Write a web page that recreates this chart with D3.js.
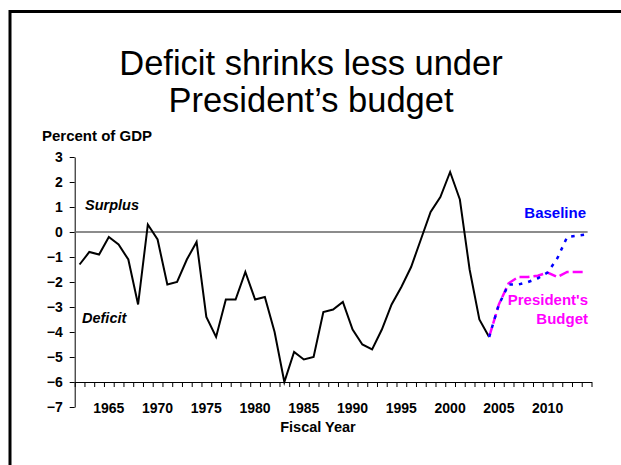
<!DOCTYPE html>
<html><head><meta charset="utf-8">
<script src="https://cdn.jsdelivr.net/npm/d3@7"></script>
<style>
html,body{margin:0;padding:0;background:#fff;}
svg{display:block;font-family:"Liberation Sans",Arial,sans-serif;}
</style></head>
<body>
<svg id="c" width="621" height="465"></svg>
<script>
// ---- data ----
const histYears = [1962,1963,1964,1965,1966,1967,1968,1969,1970,1971,1972,1973,1974,1975,1976,1977,1978,1979,1980,1981,1982,1983,1984,1985,1986,1987,1988,1989,1990,1991,1992,1993,1994,1995,1996,1997,1998,1999,2000,2001,2002,2003,2004];
const actual = [-1.3,-0.8,-0.9,-0.2,-0.5,-1.1,-2.9,0.3,-0.3,-2.1,-2.0,-1.1,-0.4,-3.4,-4.2,-2.7,-2.7,-1.6,-2.7,-2.6,-4.0,-6.0,-4.8,-5.1,-5.0,-3.2,-3.1,-2.8,-3.9,-4.5,-4.7,-3.9,-2.9,-2.2,-1.4,-0.3,0.8,1.4,2.4,1.3,-1.5,-3.5,-4.2];
const projYears = [2004,2005,2006,2007,2008,2009,2010,2011,2012,2013,2014];
const baseline = [-4.2,-2.9,-2.1,-2.1,-2.0,-1.85,-1.62,-1.05,-0.2,-0.15,-0.1];
const president = [-4.2,-2.9,-2.05,-1.8,-1.8,-1.75,-1.62,-1.8,-1.6,-1.6,-1.6];
const yTicks = [3,2,1,0,-1,-2,-3,-4,-5,-6,-7];
const xLabels = [1965,1970,1975,1980,1985,1990,1995,2000,2005,2010];
const firstYear = 1962, lastYear = 2014;

// ---- layout ----
const svg = d3.select("#c");
const x = d3.scaleLinear().domain([firstYear-0.5, lastYear+0.5]).range([74.7, 591.5]);
const y = d3.scaleLinear().domain([-7, 3]).range([407, 157]);

// frame
svg.append("rect").attr("x",10).attr("y",11.5).attr("width",640).attr("height",480)
  .attr("fill","none").attr("stroke","#000").attr("stroke-width",3);

// title
const title = svg.append("text").attr("text-anchor","middle").attr("font-size",34.5).attr("fill","#000");
title.append("tspan").attr("x",311).attr("y",75).text("Deficit shrinks less under");
title.append("tspan").attr("x",311).attr("y",112).text("President’s budget");

// y axis
const yAxis = svg.append("g").attr("transform",`translate(${x.range()[0]},0)`)
  .call(d3.axisLeft(y).tickValues(yTicks).tickSize(5).tickSizeOuter(0).tickPadding(7).tickFormat(d3.format("d")));
yAxis.select(".domain").attr("stroke","#000").attr("stroke-width",1);
yAxis.selectAll(".tick line").attr("stroke","#000");
yAxis.selectAll("text").attr("font-size",14).attr("font-weight","bold").attr("font-family","Liberation Sans, Arial, sans-serif").attr("fill","#000");

// x axis at -6
const bounds = d3.range(firstYear-0.5, lastYear+1, 1);
const xAxis = svg.append("g").attr("transform",`translate(0,${y(-6)})`)
  .call(d3.axisBottom(x).tickValues(bounds).tickSize(5).tickSizeOuter(0).tickFormat(""));
xAxis.select(".domain").attr("stroke","#000");
xAxis.selectAll(".tick line").attr("stroke","#000");

svg.append("g").selectAll("text").data(xLabels).join("text")
  .attr("x",d=>x(d)).attr("y",413).attr("text-anchor","middle")
  .attr("font-size",14).attr("font-weight","bold").attr("fill","#000").text(d=>d);

// zero line
svg.append("line").attr("x1",x.range()[0]).attr("x2",x(lastYear)+1).attr("y1",y(0)).attr("y2",y(0))
  .attr("stroke","#666").attr("stroke-width",1.5);

// labels
svg.append("text").attr("x",42).attr("y",141).attr("font-size",15).attr("font-weight","bold").text("Percent of GDP");
svg.append("text").attr("x",85).attr("y",210).attr("font-size",14.5).attr("font-weight","bold").attr("font-style","italic").text("Surplus");
svg.append("text").attr("x",82).attr("y",323).attr("font-size",14.5).attr("font-weight","bold").attr("font-style","italic").text("Deficit");
svg.append("text").attr("x",318).attr("y",432).attr("text-anchor","middle").attr("font-size",14.5).attr("font-weight","bold").text("Fiscal Year");

const line = d3.line().x(d=>x(d[0])).y(d=>y(d[1]));

svg.append("path").datum(histYears.map((d,i)=>[d,actual[i]]))
  .attr("d",line).attr("fill","none").attr("stroke","#000").attr("stroke-width",2).attr("stroke-linejoin","miter");
svg.append("path").datum(projYears.map((d,i)=>[d,president[i]]))
  .attr("d",line).attr("fill","none").attr("stroke","#FF00FF").attr("stroke-width",2.5).attr("stroke-dasharray","10,4");
svg.append("path").datum(projYears.map((d,i)=>[d,baseline[i]]))
  .attr("d",line).attr("fill","none").attr("stroke","#0000FF").attr("stroke-width",2.5).attr("stroke-dasharray","3.5,6");

svg.append("text").attr("x",586).attr("y",218).attr("text-anchor","end").attr("font-size",15).attr("font-weight","bold").attr("fill","#0000FF").text("Baseline");
const pb = svg.append("text").attr("text-anchor","end").attr("font-size",15).attr("font-weight","bold").attr("fill","#FF00FF");
pb.append("tspan").attr("x",588).attr("y",305).text("President's");
pb.append("tspan").attr("x",588).attr("y",324).text("Budget");
</script>
</body></html>
